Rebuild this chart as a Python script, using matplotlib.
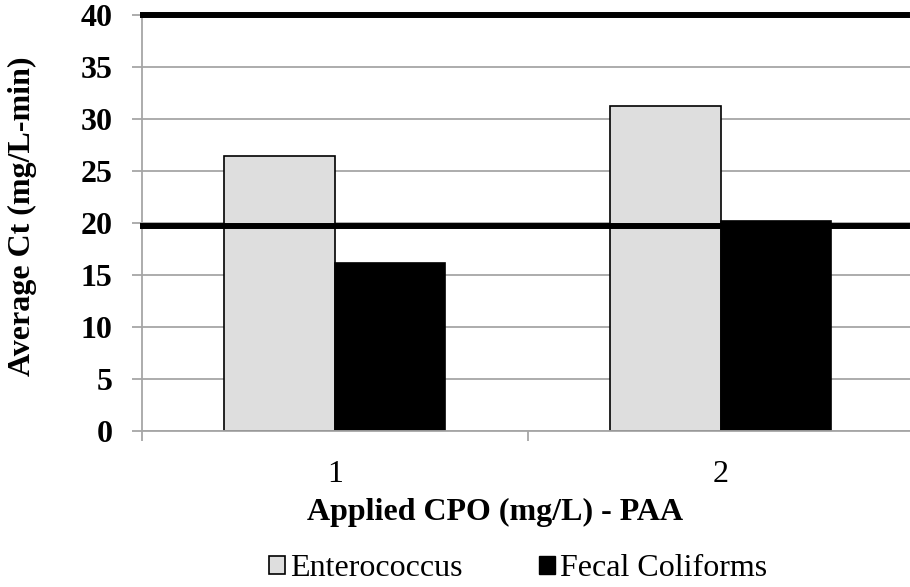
import matplotlib
matplotlib.use("Agg")
import matplotlib.pyplot as plt
import numpy as np
from matplotlib.patches import Patch

# average Ct per applied CPO dose
doses = ["1", "2"]
enterococcus = [26.45, 31.25]
fecal_coliforms = [16.15, 20.15]
limit_lines = [19.7, 40]

plt.rcParams["font.family"] = ["Liberation Serif", "DejaVu Serif"]
fs = 23
grid_gray = "#a6a6a6"

fig = plt.figure(figsize=(9.10, 5.87), dpi=100)
ax = fig.add_axes([141.7 / 910, 155.7 / 587, 772 / 910, 416.6 / 587])

x = np.arange(1, len(doses) + 1)
w = 0.286
ax.bar(x - w / 2, enterococcus, w, color="#dedede", edgecolor="black", linewidth=1.2, zorder=2)
ax.bar(x + w / 2, fecal_coliforms, w, color="black", edgecolor="black", linewidth=1.2, zorder=2)

for v in limit_lines:
    ax.axhline(v, xmin=0.002, xmax=0.991, color="black", linewidth=4.3, zorder=3, clip_on=False)

ax.set_xlim(0.5, 2.5)
ax.set_ylim(0, 40)
ax.set_yticks(np.arange(0, 41, 5))
ax.yaxis.grid(True, color=grid_gray, linewidth=1.3, zorder=0)
ax.set_axisbelow(True)

for s in ["top", "right"]:
    ax.spines[s].set_visible(False)
for s in ["left", "bottom"]:
    ax.spines[s].set_color(grid_gray)
    ax.spines[s].set_linewidth(1.3)

ax.tick_params(axis="y", direction="out", length=7.2, width=1.3, color=grid_gray,
               pad=14, labelsize=fs)
for t in ax.get_yticklabels():
    t.set_fontweight("bold")

# category boundaries get the tick marks, labels sit at the centres
ax.set_xticks([0.5, 1.5, 2.5])
ax.set_xticklabels([])
ax.set_xticks(x, minor=True)
ax.set_xticklabels(doses, minor=True)
ax.tick_params(axis="x", which="major", direction="out", length=7.2, width=1.3, color=grid_gray)
ax.tick_params(axis="x", which="minor", length=0, pad=21, labelsize=fs)

fig.text(22 / 910, 1 - 216.5 / 587, "Average Ct (mg/L-min)", rotation=90,
         ha="center", va="center", fontsize=fs, fontweight="bold")
fig.text(495 / 910, 1 - 520 / 587, "Applied CPO (mg/L) - PAA",
         ha="center", va="baseline", fontsize=fs, fontweight="bold")

handles = [Patch(facecolor="#dedede", edgecolor="black", linewidth=1.2),
           Patch(facecolor="black", edgecolor="black")]
fig.legend(handles, ["Enterococcus", "Fecal Coliforms"], loc="center",
           bbox_to_anchor=(518 / 910, 1 - 569 / 587), ncol=2, frameon=False,
           fontsize=fs, handlelength=0.5, handleheight=0.5, handletextpad=0.15,
           columnspacing=2.4, borderpad=0)

fig.savefig("out.png", dpi=100)
